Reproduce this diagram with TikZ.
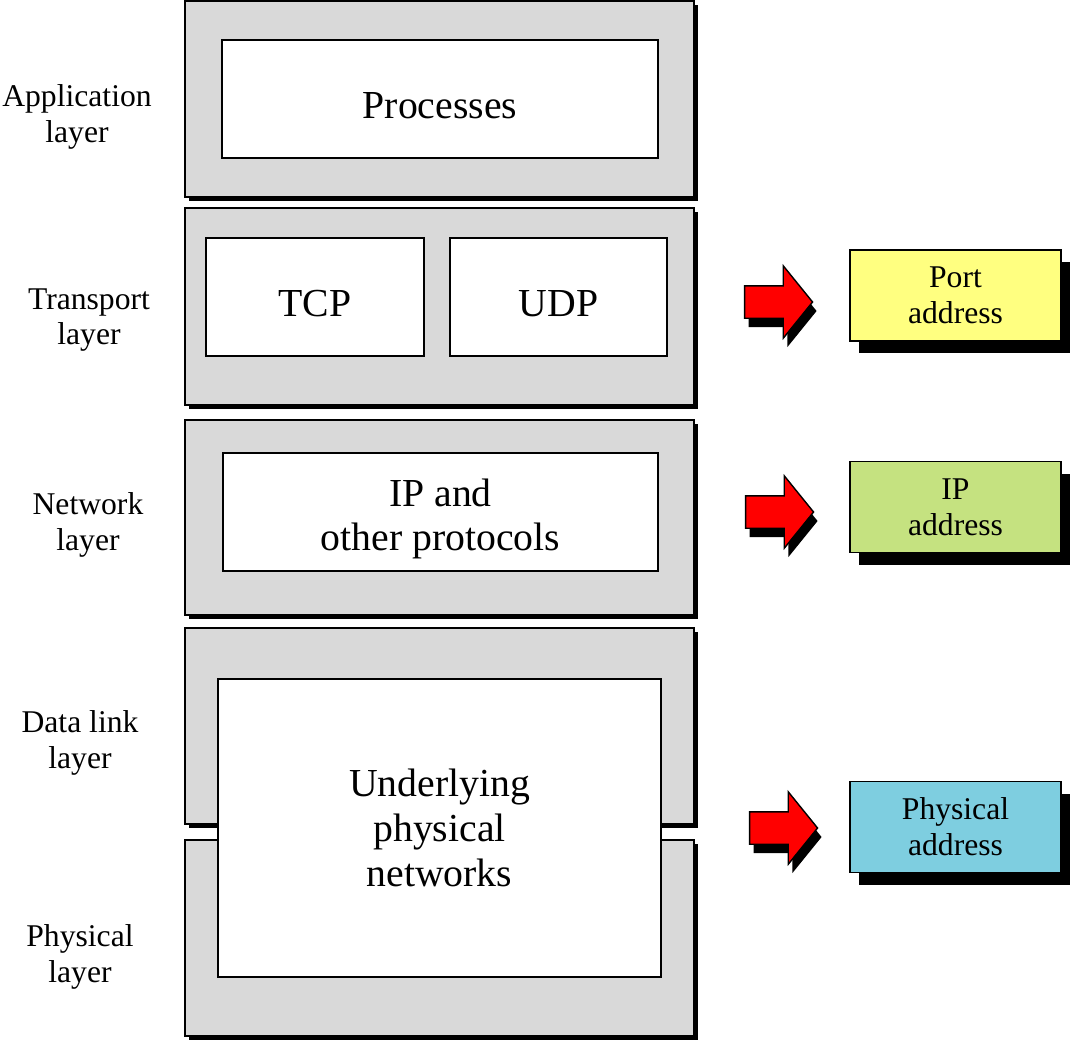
\documentclass[tikz,border=0pt]{standalone}
\usepackage{fontspec}
\setmainfont{Liberation Serif}
\usetikzlibrary{shapes.arrows,shadows}

\definecolor{layergray}{RGB}{217,217,217}
\definecolor{portyellow}{RGB}{255,255,128}
\definecolor{ipgreen}{RGB}{197,226,128}
\definecolor{physblue}{RGB}{126,206,224}
\newcommand\bigtxt{\fontsize{11.3}{12.7}\selectfont}
\newcommand\smalltxt{\fontsize{9}{10.2}\selectfont}

\begin{document}
\begin{tikzpicture}[x = 0.1mm, y = -0.1mm,
    layerbox/.style = {draw, fill=layergray, minimum width=5.09cm,
      drop shadow={shadow xshift=0.4mm, shadow yshift=-0.4mm, fill=black, opacity=1}},
    inbox/.style = {draw, fill=white, font=\bigtxt, align=center, minimum height=1.18cm},
    sunk/.style = {text height=11pt},
    layername/.style = {font=\smalltxt, align=center},
    addrbox/.style = {draw, font=\smalltxt, align=center, minimum width=2.11cm, minimum height=0.91cm,
      drop shadow={shadow xshift=0.9mm, shadow yshift=-1.2mm, fill=black, opacity=1}},
    blockarrow/.style = {single arrow, draw, fill=red, inner sep=1.55mm,
      minimum height=6.8mm, minimum width=7.1mm,
      single arrow head extend=2mm, single arrow tip angle=102,
      drop shadow={shadow xshift=0.4mm, shadow yshift=-0.9mm, fill=black, opacity=1}}]
        \useasboundingbox (0,0) rectangle (1071,1043);
        \node[layerbox, minimum height=1.96cm] (app) at (439.5,99) {};
        \node[layerbox, minimum height=1.97cm] (trans) at (439.5,306.5) {};
        \node[layerbox, minimum height=1.95cm] (net) at (439.5,517.5) {};
        \node[layerbox, minimum height=1.96cm] (link) at (439.5,726) {};
        \node[layerbox, minimum height=1.96cm] (phys) at (439.5,938) {};
        \node[inbox, sunk, minimum width=4.36cm] (proc) at (440,99) {Processes};
        \node[inbox, sunk, minimum width=2.18cm] (tcp) at (315,297) {TCP};
        \node[inbox, sunk, minimum width=2.17cm] (udp) at (558.5,297) {UDP};
        \node[inbox, text height=24.4pt, minimum width=4.35cm] (ip) at (440.5,512) {IP and\\other protocols};
        \node[inbox, minimum width=4.43cm, minimum height=2.98cm] (under) at (439.5,828) {Underlying\\physical\\networks};
        \node[layername] (appname) at (77,117) {Application\\layer};
        \node[layername] (transname) at (89,320) {Transport\\layer};
        \node[layername] (netname) at (88,525) {Network\\layer};
        \node[layername] (linkname) at (80,743) {Data link\\layer};
        \node[layername] (physname) at (80,957) {Physical\\layer};
        \node[blockarrow] (arrport) at (772,302) {};
        \node[blockarrow] (arrip) at (773,512) {};
        \node[blockarrow] (arrphys) at (777,828) {};
        \node[addrbox, fill=portyellow] (port) at (955.5,295.5) {Port\\address};
        \node[addrbox, fill=ipgreen] (ipaddr) at (955.5,507) {IP\\address};
        \node[addrbox, fill=physblue] (physaddr) at (955.5,827) {Physical\\address};
      \end{tikzpicture}
\end{document}
